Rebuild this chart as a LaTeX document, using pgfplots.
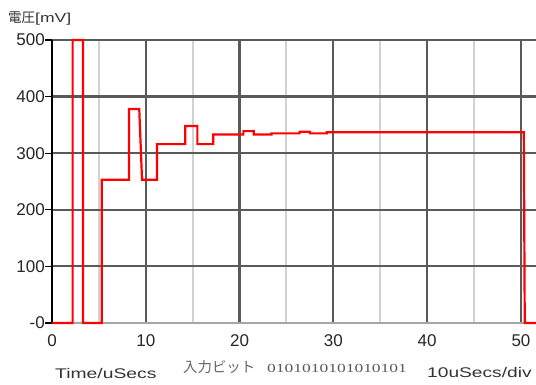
\documentclass[border=0pt]{standalone}
\usepackage{pgfplots}
\pgfplotsset{compat=1.18}
\usepackage{fontspec}
\setmainfont{Liberation Sans}
\newfontfamily\cjk{Noto Sans CJK JP}
\newfontfamily\seriffont{Liberation Serif}
\definecolor{gridmajor}{HTML}{5A5A5A}
\definecolor{gridminor}{HTML}{D2D2D2}
\begin{document}
\begin{tikzpicture}[x=1pt,y=1pt]
\begin{axis}[
  at={(52pt,62pt)}, anchor=south west,
  scale only axis, width=484pt, height=283pt,
  xmin=0, xmax=51.6, ymin=0, ymax=500,
  clip=false,
  axis x line*=bottom, axis y line*=left,
  x axis line style={-, draw=gray!70, line width=1.6pt},
  y axis line style={-, draw=black, line width=2.4pt},
  xtick={0,10,20,30,40,50},
  minor xtick={5,15,25,35,45},
  ytick={0,100,200,300,400,500},
  yticklabels={-0,100,200,300,400,500},
  xmajorgrids, xminorgrids, ymajorgrids,
  major grid style={draw=gridmajor, line width=2.2pt},
  minor grid style={draw=gridminor, line width=2pt},
  tick align=outside,
  major tick length=7pt,
  minor tick length=0pt,
  xtick style={draw=none},
  ytick style={draw=black, line width=1.2pt},
  ticklabel style={font=\fontsize{17}{17}\selectfont, text=black!85},
  /pgf/number format/assume math mode=true,
  yticklabel style={anchor=east, inner sep=0pt},
  xticklabel style={anchor=north, inner sep=0pt, yshift=-4pt},
]
\addplot[red, line width=2.2pt, line join=miter] coordinates {
(0,0) (2.2,0) (2.2,500) (3.3,500) (3.3,0) (5.3,0) (5.3,253) (8.2,253)
(8.2,378) (9.3,378) (9.6,253) (11.2,253) (11.2,316) (14.2,316) (14.2,348)
(15.5,348) (15.5,316) (17.2,316) (17.2,333) (20.4,333) (20.4,339) (21.5,339)
(21.5,333) (23.4,333) (23.4,335) (26.4,335) (26.4,338) (27.5,338) (27.5,335)
(29.3,335) (29.3,337) (50.3,337) (50.4,0) (51.6,0)
};
\end{axis}
\node[anchor=west, inner sep=0pt, text=black!80] at (8,366.5)
  {{\cjk\fontsize{13.5}{13.5}\selectfont 電圧}\scalebox{1.35}[1]{\fontsize{13}{13}\selectfont[mV]}};
\node[anchor=base west, inner sep=0pt, text=black!80] at (55,6)
  {\scalebox{1.38}[1]{\fontsize{14}{14}\selectfont Time/uSecs}};
\node[anchor=base west, inner sep=0pt, text=black!60] at (183,12)
  {{\cjk\fontsize{14.4}{14.4}\selectfont 入力ビット}};
\node[anchor=base west, inner sep=0pt, text=black!65] at (267,12)
  {\scalebox{1.42}[1]{\seriffont\fontsize{12.3}{12.3}\selectfont 0101010101010101}};
\node[anchor=base west, inner sep=0pt, text=black!80] at (427,7)
  {\scalebox{1.37}[1]{\fontsize{14}{14}\selectfont 10uSecs/div}};
\pgfresetboundingbox
\useasboundingbox (0,0) rectangle (536,385);
\end{tikzpicture}
\end{document}
